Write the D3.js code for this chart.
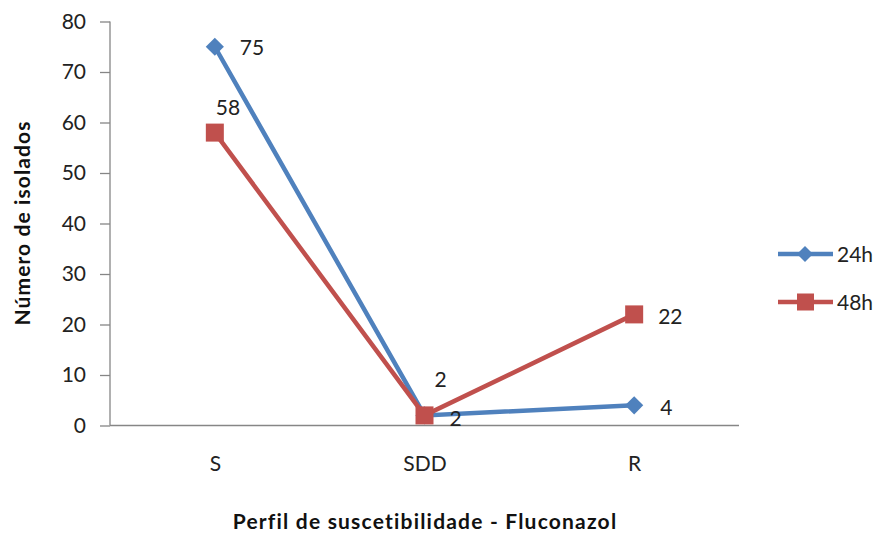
<!DOCTYPE html>
<html><head><meta charset="utf-8">
<script src="https://cdn.jsdelivr.net/npm/d3@7"></script>
<style>body{margin:0;background:#fff}svg{font-family:Lato,"Open Sans",sans-serif}</style>
</head><body><svg id="c" width="882" height="534"></svg>
<script>
const categories = ["S","SDD","R"];
const series24 = [75, 2, 4];
const series48 = [58, 2, 22];
const yTicks = [0,10,20,30,40,50,60,70,80];
const seriesNames = ["24h","48h"];
const colors = ["#4F81BD","#C0504D"];

const FS = 21;
const svg = d3.select("#c");
const x = d3.scalePoint().domain(categories).range([110,739]).padding(0.5);
const y = d3.scaleLinear().domain([0,80]).range([425.5,21.5]);

// y axis
const ya = svg.append("g").attr("transform","translate(110,0)")
  .call(d3.axisLeft(y).tickValues(yTicks).tickSize(10).tickPadding(14));
ya.selectAll("path,line").attr("stroke","#868686").attr("stroke-width",1.3);
ya.select(".domain").attr("d","M0,21.5V425.5");
ya.selectAll("text").attr("font-size",FS).attr("fill","#222").attr("font-family","Lato");

// x axis
const xa = svg.append("g").attr("transform","translate(0,425.5)")
  .call(d3.axisBottom(x).tickSize(0).tickPadding(31));
xa.selectAll("path,line").attr("stroke","#868686").attr("stroke-width",1.3);
xa.select(".domain").attr("d","M110,0H739");
xa.selectAll("text").attr("font-size",FS).attr("fill","#222").attr("font-family","Lato");

const line = d3.line().x((d,i)=>x(categories[i])).y(d=>y(d));
const data = [series24, series48];
data.forEach((s,k)=>{
  svg.append("path").attr("d",line(s)).attr("fill","none")
    .attr("stroke",colors[k]).attr("stroke-width",4.5);
});
// markers
svg.append("g").selectAll("path").data(series24).join("path")
  .attr("d", d3.symbol().type(d3.symbolSquare).size(165))
  .attr("transform",(d,i)=>`translate(${x(categories[i])},${y(d)}) rotate(45)`)
  .attr("fill",colors[0]);
svg.append("g").selectAll("rect").data(series48).join("rect")
  .attr("x",(d,i)=>x(categories[i])-9).attr("y",d=>y(d)-9)
  .attr("width",18).attr("height",18).attr("fill",colors[1]);

// data labels
const lab24 = [[25,8],[25,11],[26,10]];
const lab48 = [[1,-18],[10,-28],[24,10]];
const lg = svg.append("g").attr("font-size",FS).attr("fill","#222").attr("font-family","Lato");
series24.forEach((d,i)=>{
  lg.append("text").attr("x",x(categories[i])+lab24[i][0]).attr("y",y(d)+lab24[i][1]).text(d);
});
series48.forEach((d,i)=>{
  lg.append("text").attr("x",x(categories[i])+lab48[i][0]).attr("y",y(d)+lab48[i][1]).text(d);
});

// legend
const leg = svg.append("g");
seriesNames.forEach((n,k)=>{
  const yy = 254 + k*48;
  leg.append("line").attr("x1",778).attr("x2",833).attr("y1",yy).attr("y2",yy)
    .attr("stroke",colors[k]).attr("stroke-width",4.5);
  if(k===0){
    leg.append("path").attr("d",d3.symbol().type(d3.symbolSquare).size(128)())
      .attr("transform",`translate(805,${yy}) rotate(45)`).attr("fill",colors[k]);
  } else {
    leg.append("rect").attr("x",797).attr("y",yy-8.5).attr("width",17).attr("height",17).attr("fill",colors[k]);
  }
  leg.append("text").attr("x",837).attr("y",yy+8).attr("font-size",FS).attr("fill","#222")
    .attr("font-family","Lato").text(n);
});

// axis titles
svg.append("text").attr("transform","translate(30,223) rotate(-90)").attr("text-anchor","middle")
  .attr("font-size",21).attr("font-weight","bold").attr("fill","#111").attr("font-family","Lato")
  .attr("letter-spacing",1.1)
  .text("Número de isolados");
svg.append("text").attr("x",425).attr("y",529).attr("text-anchor","middle")
  .attr("font-size",21).attr("font-weight","bold").attr("fill","#111").attr("font-family","Lato")
  .attr("letter-spacing",1.2)
  .text("Perfil de suscetibilidade  - Fluconazol");
</script></body></html>
